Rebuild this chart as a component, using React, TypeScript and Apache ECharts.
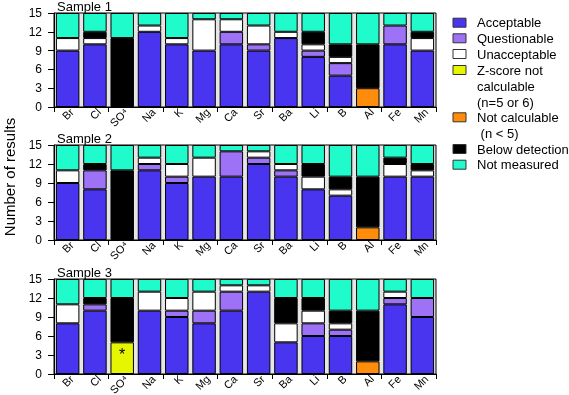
import React, { useEffect, useRef } from 'react';
import * as echarts from 'echarts';

const categories = ['Br', 'Cl', 'SO⁴', 'Na', 'K', 'Mg', 'Ca', 'Sr', 'Ba', 'Li', 'B', 'Al', 'Fe', 'Mn'];
const sampleTitles = ['Sample 1', 'Sample 2', 'Sample 3'];
const yTicks = [0, 3, 6, 9, 12, 15];

const seriesNames = [
  'Acceptable',
  'Questionable',
  'Unacceptable',
  'Z-score not calculable (n=5 or 6)',
  'Not calculable (n < 5)',
  'Below detection',
  'Not measured',
];
const legendLabels = [
  'Acceptable',
  'Questionable',
  'Unacceptable',
  'Z-score not\ncalculable\n(n=5 or 6)',
  'Not calculable\n (n < 5)',
  'Below detection',
  'Not measured',
];
const seriesColors = ['#4934ef', '#9d72f7', '#ffffff', '#e6f500', '#ff8c0a', '#000000', '#20fbcb'];

// Sample 1
const acceptable1 = [9, 10, 0, 12, 10, 9, 10, 9, 11, 8, 5, 0, 10, 9];
const questionable1 = [0, 0, 0, 0, 0, 0, 2, 1, 0, 1, 2, 0, 3, 0];
const unacceptable1 = [2, 1, 0, 1, 1, 5, 2, 3, 1, 1, 1, 0, 0, 2];
const zscore1 = [0, 0, 0, 0, 0, 0, 0, 0, 0, 0, 0, 0, 0, 0];
const notCalc1 = [0, 0, 0, 0, 0, 0, 0, 0, 0, 0, 0, 3, 0, 0];
const below1 = [0, 1, 11, 0, 0, 0, 0, 0, 0, 2, 2, 7, 0, 1];
const notMeasured1 = [4, 3, 4, 2, 4, 1, 1, 2, 3, 3, 5, 5, 2, 3];

// Sample 2
const acceptable2 = [9, 8, 0, 11, 9, 10, 10, 12, 10, 8, 7, 0, 10, 10];
const questionable2 = [0, 3, 0, 1, 1, 0, 4, 1, 1, 0, 0, 0, 0, 0];
const unacceptable2 = [2, 0, 0, 1, 2, 3, 0, 1, 1, 2, 1, 0, 2, 1];
const zscore2 = [0, 0, 0, 0, 0, 0, 0, 0, 0, 0, 0, 0, 0, 0];
const notCalc2 = [0, 0, 0, 0, 0, 0, 0, 0, 0, 0, 0, 2, 0, 0];
const below2 = [0, 1, 11, 0, 0, 0, 0, 0, 0, 2, 2, 8, 1, 1];
const notMeasured2 = [4, 3, 4, 2, 3, 2, 1, 1, 3, 3, 5, 5, 2, 3];

// Sample 3
const acceptable3 = [8, 10, 0, 10, 9, 8, 10, 13, 5, 6, 6, 0, 11, 9];
const questionable3 = [0, 1, 0, 0, 1, 2, 3, 0, 0, 2, 1, 0, 1, 3];
const unacceptable3 = [3, 0, 0, 3, 2, 3, 1, 1, 3, 2, 1, 0, 1, 0];
const zscore3 = [0, 0, 5, 0, 0, 0, 0, 0, 0, 0, 0, 0, 0, 0];
const notCalc3 = [0, 0, 0, 0, 0, 0, 0, 0, 0, 0, 0, 2, 0, 0];
const below3 = [0, 1, 7, 0, 0, 0, 0, 0, 4, 2, 2, 8, 0, 0];
const notMeasured3 = [4, 3, 3, 2, 3, 2, 1, 1, 3, 3, 5, 5, 2, 3];

const samples = [
  [acceptable1, questionable1, unacceptable1, zscore1, notCalc1, below1, notMeasured1],
  [acceptable2, questionable2, unacceptable2, zscore2, notCalc2, below2, notMeasured2],
  [acceptable3, questionable3, unacceptable3, zscore3, notCalc3, below3, notMeasured3],
];
// cells marked with an asterisk (sample index, series index, category index)
const starMarks = [[2, 3, 2]];

export default function App() {
  const ref = useRef<HTMLDivElement>(null);
  useEffect(() => {
    if (!ref.current) return;
    const chart = echarts.init(ref.current, null, { renderer: 'svg' });
    const gridTops = [13, 145, 279];
    const gridHeights = [94, 95, 95];
    const grids = gridTops.map((t, i) => ({
      left: 54,
      width: 382,
      top: t,
      height: gridHeights[i],
      show: true,
      backgroundColor: '#e6e6e6',
      borderColor: '#000',
      borderWidth: 1,
    }));
    const xAxes = gridTops.map((_, i) => ({
      type: 'category',
      gridIndex: i,
      data: categories,
      axisLine: { lineStyle: { color: '#000', width: 1 } },
      axisTick: { show: true, length: 5, lineStyle: { color: '#000' } },
      axisLabel: { show: false },
    }));
    const yAxes = gridTops.map((_, i) => ({
      type: 'value',
      gridIndex: i,
      min: 0,
      max: 15,
      interval: 3,
      axisLine: { show: true, lineStyle: { color: '#000', width: 1 } },
      axisTick: { show: true, length: 6, lineStyle: { color: '#000' } },
      axisLabel: {
        fontSize: 12,
        color: '#000',
        margin: 12,
        formatter: (v: number) => (yTicks.includes(v) ? String(v) : ''),
      },
      splitLine: { show: false },
    }));
    const series: any[] = [];
    samples.forEach((sample, si) => {
      sample.forEach((vals, k) => {
        series.push({
          type: 'bar',
          name: seriesNames[k],
          xAxisIndex: si,
          yAxisIndex: si,
          stack: 'sample' + si,
          barCategoryGap: '14%',
          itemStyle: { color: seriesColors[k], borderColor: '#000', borderWidth: 1 },
          data: vals.map((v, ci) => {
            const star = starMarks.some((m) => m[0] === si && m[1] === k && m[2] === ci);
            if (v === 0) return '-';
            if (star) {
              return {
                value: v,
                label: {
                  show: true,
                  formatter: '*',
                  position: 'inside',
                  offset: [0, -4],
                  color: '#000',
                  fontSize: 16,
                },
              };
            }
            return v;
          }),
        });
      });
    });

    chart.setOption({
      animation: false,
      grid: grids,
      xAxis: xAxes,
      yAxis: yAxes,
      series,
    });

    const graphic: any[] = [];
    // rotated category labels placed through the axes' own scales
    gridTops.forEach((_, i) => {
      const y0 = chart.convertToPixel({ yAxisIndex: i } as any, 0) as unknown as number;
      categories.forEach((cat, ci) => {
        const cx = chart.convertToPixel({ xAxisIndex: i } as any, ci) as unknown as number;
        graphic.push({
          type: 'text',
          x: cx + 4,
          y: y0 + 3,
          rotation: Math.PI / 4,
          style: {
            text: cat,
            fontSize: 11,
            fill: '#000',
            textAlign: 'right',
            textVerticalAlign: 'middle',
            align: 'right',
            verticalAlign: 'middle',
          },
        });
      });
    });
    sampleTitles.forEach((t, i) => {
      graphic.push({
        type: 'text',
        x: 57,
        y: gridTops[i] - 7,
        style: {
          text: t,
          fontSize: 13,
          fill: '#000',
          textAlign: 'left',
          textVerticalAlign: 'middle',
          align: 'left',
          verticalAlign: 'middle',
        },
      });
    });
    graphic.push({
      type: 'text',
      x: 9,
      y: 177,
      rotation: Math.PI / 2,
      style: {
        text: 'Number of results',
        fontSize: 15,
        fill: '#000',
        textAlign: 'center',
        textVerticalAlign: 'middle',
        align: 'center',
        verticalAlign: 'middle',
      },
    });
    const legendY = [22.7, 38.3, 54, 70, 117.3, 149, 164.7];
    legendLabels.forEach((lab, k) => {
      graphic.push({
        type: 'rect',
        shape: { x: 453, y: legendY[k] - 4.5, width: 13, height: 9 },
        style: { fill: seriesColors[k], stroke: '#333', lineWidth: 1 },
      });
      graphic.push({
        type: 'text',
        x: 477,
        y: legendY[k] - 8,
        style: {
          text: lab,
          fontSize: 13,
          lineHeight: 16,
          fill: '#000',
          textAlign: 'left',
          textVerticalAlign: 'top',
          align: 'left',
          verticalAlign: 'top',
        },
      });
    });
    chart.setOption({ graphic });
    return () => chart.dispose();
  }, []);
  return (
    <div
      ref={ref}
      style={{ position: 'fixed', left: 0, top: 0, width: 569, height: 395 }}
    />
  );
}
